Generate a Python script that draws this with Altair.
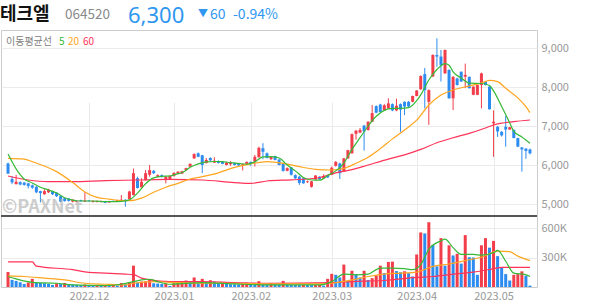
import altair as alt
import pandas as pd

# ---------------- data ----------------
OPEN = [6040, 5640, 5510, 5560, 5550, 5530, 5480, 5440, 5330, 5250,
        5300, 5330, 5290, 5200, 5150, 5140, 5060, 5050, 5100, 5060,
        5090, 5050, 5050, 5050, 5070, 5040, 5080, 5060, 5080, 5110,
        5120, 5230, 5660, 5430, 5620, 5750, 5850, 5700, 5740, 5620,
        5640, 5720, 5780, 5780, 5870, 5960, 6170, 6300, 6250, 6050,
        6180, 6060, 6100, 6090, 6000, 6020, 6050, 6030, 5990, 6030,
        6080, 6090, 6200, 6430, 6300, 6150, 6230, 6140, 6040, 5850,
        5940, 5740, 5700, 5660, 5560, 5440, 5630, 5700, 5650, 5740,
        5750, 5980, 6040, 5830, 6170, 6300, 6800, 6830, 7010, 6900,
        7110, 7510, 7550, 7400, 7450, 7560, 7400, 7560, 7620, 7620,
        7620, 7770, 7940, 8330, 7620, 8270, 8820, 8780, 8350, 8440,
        7710, 8220, 8390, 8265, 8260, 7800, 7800, 8050, 8140, 8010,
        7070, 6980, 6850, 6980, 6910, 6900, 6690, 6450, 6420, 6400]
HIGH = [6060, 5720, 5745, 5580, 5560, 5545, 5500, 5460, 5340, 5380,
        5390, 5340, 5300, 5210, 5160, 5150, 5120, 5100, 5110, 5300,
        5100, 5090, 5090, 5090, 5080, 5080, 5090, 5110, 5230, 5120,
        5340, 5910, 5700, 5660, 5870, 6000, 5870, 5760, 5760, 5720,
        5740, 5810, 5840, 5850, 5930, 6040, 6300, 6320, 6260, 6180,
        6200, 6200, 6120, 6100, 6080, 6100, 6060, 6040, 6030, 6090,
        6090, 6260, 6470, 6560, 6320, 6230, 6240, 6150, 6060, 5940,
        5950, 5760, 5720, 5670, 5600, 5590, 5740, 5710, 5760, 5750,
        5960, 6100, 6060, 6180, 6390, 6810, 6900, 6950, 7030, 7120,
        7540, 7530, 7570, 7560, 7710, 7580, 7700, 7580, 7630, 7640,
        7780, 7920, 8300, 8490, 7940, 8840, 9250, 8950, 8960, 8450,
        8280, 8240, 8400, 8600, 8270, 8020, 8060, 8370, 8150, 8020,
        7400, 7000, 6870, 7260, 6980, 6910, 6700, 6460, 6430, 6420]
LOW = [5770, 5510, 5500, 5480, 5470, 5400, 5390, 5280, 5040, 5240,
       5280, 5230, 5180, 5050, 5060, 5060, 5040, 5040, 5060, 5050,
       5060, 5040, 5040, 5040, 5020, 5030, 5050, 5050, 5070, 4930,
       5110, 5220, 5400, 5420, 5600, 5700, 5770, 5680, 5680, 5530,
       5630, 5700, 5760, 5770, 5860, 5950, 6160, 6200, 5790, 6040,
       6100, 6050, 6040, 6020, 5990, 5980, 5990, 5980, 5860, 6020,
       5970, 5960, 6190, 6150, 6170, 6130, 6120, 5990, 5830, 5840,
       5730, 5640, 5490, 5520, 5540, 5420, 5620, 5620, 5640, 5670,
       5740, 5960, 5640, 5820, 6160, 6290, 6650, 6820, 6370, 6880,
       7100, 7330, 7350, 7390, 7440, 7380, 7380, 6850, 7280, 7480,
       7610, 7760, 7930, 7450, 7030, 8260, 8520, 8140, 8340, 7700,
       7410, 8040, 8130, 7970, 7960, 7790, 7790, 7450, 8040, 7420,
       6210, 6720, 6730, 6470, 6900, 6690, 6460, 5830, 6160, 6270]
CLOSE = [5780, 5555, 5570, 5500, 5490, 5460, 5420, 5300, 5280, 5330,
         5370, 5250, 5200, 5060, 5080, 5080, 5110, 5080, 5070, 5090,
         5070, 5080, 5080, 5075, 5030, 5070, 5060, 5100, 5110, 5070,
         5320, 5790, 5410, 5570, 5790, 5870, 5790, 5740, 5690, 5700,
         5720, 5800, 5830, 5840, 5920, 6030, 6280, 6210, 6000, 6130,
         6120, 6110, 6050, 6030, 6060, 6060, 6000, 5990, 6020, 6080,
         6030, 6210, 6440, 6340, 6180, 6210, 6130, 6000, 5850, 5920,
         5750, 5660, 5540, 5530, 5580, 5580, 5730, 5640, 5720, 5680,
         5930, 6080, 5790, 6170, 6380, 6790, 6880, 6900, 6860, 7110,
         7330, 7340, 7360, 7530, 7580, 7400, 7520, 7420, 7500, 7500,
         7770, 7910, 8280, 7920, 7920, 8820, 8780, 8560, 8950, 7710,
         8260, 8050, 8140, 8310, 7970, 8010, 8050, 8350, 8050, 7430,
         7110, 6860, 6760, 6910, 6970, 6690, 6470, 6400, 6360, 6300]
VOLUME_K = [152, 72, 62, 48, 31, 45, 83, 45, 42, 38,
            31, 21, 38, 31, 41, 28, 26, 22, 18, 25,
            18, 16, 20, 15, 18, 14, 22, 16, 41, 30,
            48, 217, 45, 55, 58, 79, 38, 35, 32, 36,
            10, 38, 40, 55, 66, 52, 97, 38, 83, 55,
            69, 55, 38, 45, 38, 28, 27, 25, 31, 45,
            31, 26, 59, 28, 27, 38, 28, 27, 62, 28,
            21, 20, 19, 21, 20, 19, 21, 22, 14, 83,
            134, 124, 97, 228, 62, 165, 131, 97, 165, 72,
            90, 117, 217, 141, 255, 258, 162, 150, 160, 141,
            107, 331, 555, 545, 659, 428, 210, 497, 217, 424,
            321, 338, 238, 528, 303, 300, 124, 424, 497, 400,
            469, 314, 193, 131, 66, 124, 131, 159, 114, 14]

# moving averages (day index, value)
MA5_IDX = [0, 2, 4, 6, 8, 10, 12, 14, 16, 18, 21, 24, 27, 29, 30, 32, 34, 36, 38, 40,
           42, 43, 45, 47, 49, 51, 53, 55, 57, 59, 61, 63, 65, 67, 69, 71, 73, 75, 77, 79,
           81, 83, 85, 87, 89, 91, 93, 95, 97, 99, 101, 102, 104, 106, 108, 109, 110, 112,
           114, 117, 119, 120, 122, 124, 125, 127, 129]
MA5_VAL = [6280, 5900, 5640, 5540, 5430, 5360, 5280, 5160, 5100, 5077, 5077, 5062, 5060, 5080,
           5110, 5280, 5520, 5670, 5710, 5718, 5780, 5800, 5940, 6030, 6080, 6090, 6086, 6060,
           6040, 6020, 6080, 6210, 6213, 6180, 6000, 5850, 5680, 5615, 5610, 5730, 5850, 6050,
           6400, 6700, 7000, 7250, 7400, 7450, 7453, 7470, 7650, 7800, 8180, 8450, 8600, 8560,
           8390, 8230, 8100, 8090, 8040, 7900, 7500, 7080, 6860, 6720, 6560]
MA20_IDX = [0, 4, 6, 9, 12, 16, 19, 22, 25, 28, 30, 33, 36, 39, 42, 45, 48, 52, 56, 60,
            64, 68, 72, 76, 80, 83, 86, 89, 92, 95, 98, 101, 104, 107, 110, 114, 117, 119,
            121, 123, 126, 128, 129]
MA20_VAL = [6170, 6150, 6085, 5974, 5830, 5550, 5310, 5170, 5125, 5090, 5085, 5150, 5300,
            5430, 5530, 5640, 5700, 5800, 5940, 6030, 6086, 6043, 5957, 5890, 5872, 5914,
            6043, 6200, 6420, 6670, 6900, 7150, 7539, 7795, 7923, 8030, 8100, 8170, 8137,
            7966, 7720, 7496, 7342]
MA60_IDX = [0, 5, 10, 16, 24, 32, 40, 48, 56, 60, 64, 70, 76, 81, 85, 89, 94, 98, 102,
            106, 110, 114, 118, 120, 125, 129]
MA60_VAL = [5718, 5615, 5573, 5573, 5600, 5615, 5630, 5616, 5550, 5530, 5590, 5620, 5660,
            5800, 5880, 6000, 6150, 6260, 6400, 6570, 6700, 6812, 6950, 7026, 7112, 7154]

VMA5_IDX = [0, 2, 6, 12, 16, 24, 28, 31, 33, 35, 37, 40, 48, 56, 64, 73, 77, 80, 83, 86,
            89, 92, 95, 98, 100, 102, 104, 107, 108, 110, 112, 115, 117, 120, 121, 123, 125,
            128, 129]
VMA5_VAL = [107, 83, 48, 38, 21, 14, 28, 55, 72, 79, 55, 28, 45, 31, 21, 21, 21, 55, 131,
            124, 131, 193, 193, 186, 176, 228, 383, 469, 486, 400, 331, 331, 324, 348, 372,
            262, 141, 124, 107]
VMA20_IDX = [0, 4, 9, 14, 19, 24, 29, 31, 36, 40, 48, 56, 64, 77, 80, 85, 89, 93, 97, 101,
             105, 109, 113, 117, 121, 124, 126, 129]
VMA20_VAL = [114, 107, 90, 72, 38, 28, 21, 38, 55, 48, 38, 38, 31, 31, 38, 72, 107, 131,
             141, 152, 210, 234, 269, 303, 365, 359, 314, 269]
VMA60_IDX = [0, 6, 7, 16, 20, 24, 29, 31, 33, 35, 40, 48, 56, 64, 80, 85, 93, 101, 105,
             110, 115, 120, 122, 129]
VMA60_VAL = [255, 255, 212, 176, 148, 141, 131, 126, 90, 72, 55, 55, 45, 38, 45, 55, 66,
             97, 107, 131, 152, 186, 200, 200]

MONTH_IDX = [20, 41, 60, 80, 101, 120]
MONTH_LABELS = ["2022.12", "2023.01", "2023.02", "2023.03", "2023.04", "2023.05"]
PRICE_TICKS = [5000, 6000, 7000, 8000, 9000]
VOL_TICKS_K = [300, 600]

# ---------------- styling ----------------
RED = "#f23d4a"
BLUE = "#2d8cf0"
GREEN = "#36b936"
ORANGE = "#ffa51f"
PINK = "#ff3358"
HEAD_BLUE = "#2f97f0"
FONT = "Noto Sans CJK KR"
LATIN = "Noto Sans"

W, H = 536, 257

candles = pd.DataFrame({"idx": list(range(len(OPEN))), "open": OPEN, "high": HIGH,
                        "low": LOW, "close": CLOSE})
candles["dir"] = ["up" if c >= o else "down" for o, c in zip(OPEN, CLOSE)]

vol = pd.DataFrame({"idx": list(range(len(VOLUME_K))), "vol": VOLUME_K})
vol["dir"] = ["up" if i == 0 or VOLUME_K[i] >= VOLUME_K[i - 1] else "down"
              for i in range(len(VOLUME_K))]

x_scale = alt.Scale(domain=[-0.5, len(OPEN) - 0.5], nice=False, zero=False)
price_scale = alt.Scale(domain=[4718, 9462], range=[185, 0], nice=False, zero=False)
vol_scale = alt.Scale(domain=[0, 712], range=[257, 187], nice=False, zero=False)
color_scale = alt.Scale(domain=["up", "down"], range=[RED, BLUE])

month_expr = " : ".join(f"datum.value == {i} ? '{l}'" for i, l in zip(MONTH_IDX, MONTH_LABELS)) + " : ''"
x_axis = alt.Axis(values=MONTH_IDX, labelExpr=month_expr, grid=True, gridColor="#ebebeb",
                  ticks=False, domain=False, labelColor="#999999", labelFontSize=11,
                  labelPadding=3, title=None, orient="bottom", labelFont=FONT)
price_axis = alt.Axis(values=PRICE_TICKS, labelExpr="format(datum.value, ',')", grid=True,
                      gridColor="#ebebeb", ticks=False, domain=False, labelColor="#999999",
                      labelFontSize=11, labelPadding=4, title=None, orient="right",
                      labelFont=FONT)
vol_axis = alt.Axis(values=VOL_TICKS_K, labelExpr="datum.value + 'K'", grid=True,
                    gridColor="#ebebeb", ticks=False, domain=False, labelColor="#999999",
                    labelFontSize=11, labelPadding=4, title=None, orient="right",
                    labelFont=FONT)

X = alt.X("idx:Q", scale=x_scale, axis=x_axis)
COL = alt.Color("dir:N", scale=color_scale, legend=None)

wick = alt.Chart(candles).mark_rule(strokeWidth=1).encode(
    x=X, y=alt.Y("low:Q", scale=price_scale, axis=price_axis), y2="high:Q", color=COL)
body = alt.Chart(candles).mark_bar(size=3).encode(
    x=X, y=alt.Y("open:Q", scale=price_scale, axis=price_axis), y2="close:Q", color=COL)


def ma_line(idx, val, color, scale, axis):
    df = pd.DataFrame({"idx": idx, "v": val})
    return alt.Chart(df).mark_line(color=color, strokeWidth=1.2, interpolate="monotone").encode(
        x=X, y=alt.Y("v:Q", scale=scale, axis=axis))


price_layer = alt.layer(
    wick, body,
    ma_line(MA60_IDX, MA60_VAL, PINK, price_scale, price_axis),
    ma_line(MA20_IDX, MA20_VAL, ORANGE, price_scale, price_axis),
    ma_line(MA5_IDX, MA5_VAL, GREEN, price_scale, price_axis),
)

vbars = alt.Chart(vol).mark_bar(size=3).encode(
    x=X, y=alt.Y("vol:Q", scale=vol_scale, axis=vol_axis, stack=None), color=COL)
vol_layer = alt.layer(
    vbars,
    ma_line(VMA60_IDX, VMA60_VAL, PINK, vol_scale, vol_axis),
    ma_line(VMA20_IDX, VMA20_VAL, ORANGE, vol_scale, vol_axis),
    ma_line(VMA5_IDX, VMA5_VAL, GREEN, vol_scale, vol_axis),
)

one = pd.DataFrame({"a": [0]})


def label(txt, x, y, size, color, weight="normal", opacity=1.0, font=FONT):
    return alt.Chart(one).mark_text(
        text=txt, fontSize=size, color=color, fontWeight=weight, align="left",
        baseline="alphabetic", font=font, opacity=opacity
    ).encode(x=alt.value(x), y=alt.value(y))


separator = alt.Chart(one).mark_rule(color="#555555", strokeWidth=2).encode(
    x=alt.value(0), x2=alt.value(W), y=alt.value(186))

texts = [
    label("테크엘", -1, -10, 18, "#111111", "bold"),
    label("064520", 64, -11, 13.5, "#8a8a8a"),
    label("6,300", 127, -7, 22, HEAD_BLUE, font=LATIN),
    label("▼", 197, -13, 10, HEAD_BLUE),
    label("60", 209, -11, 14, HEAD_BLUE),
    label("-0.94%", 232, -11, 14, HEAD_BLUE),
    label("이동평균선", 5, 15, 10, "#808080"),
    label("5", 58, 15, 10, GREEN),
    label("20", 67, 15, 10, ORANGE),
    label("60", 82, 15, 10, PINK),
    label("©PAXNet", 1, 183, 18, "#b9b9b9", "bold", 0.7),
]

chart = alt.layer(price_layer, vol_layer, separator, *texts).resolve_scale(
    y="independent"
).properties(
    width=W, height=H,
    autosize=alt.AutoSizeParams(type="none"),
    padding={"left": 1, "top": 30, "right": 57, "bottom": 17},
    background="white",
).configure(font=FONT).configure_view(stroke="#cccccc", strokeWidth=1)

chart.save("out.html", embed_options={"renderer": "svg", "actions": False})
